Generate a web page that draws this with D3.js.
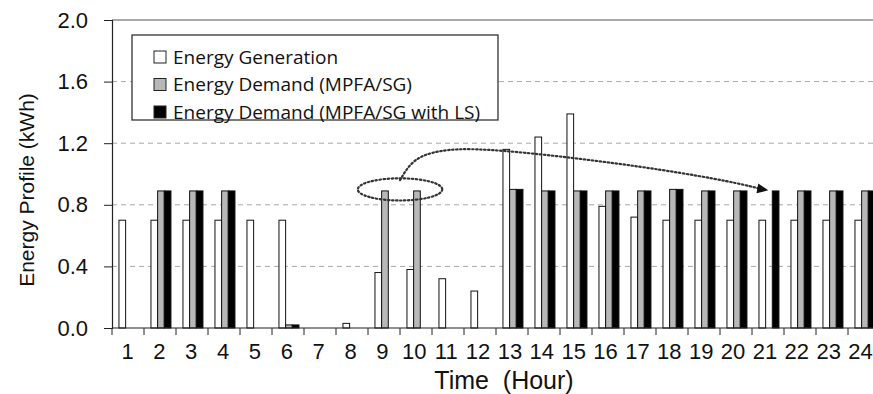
<!DOCTYPE html>
<html>
<head>
<meta charset="utf-8">
<script src="https://cdn.jsdelivr.net/npm/d3@7"></script>
<style>
  body { margin: 0; background: #fff; }
  svg { display: block; }
</style>
</head>
<body>
<div id="figure"></div>
<script>
// hours on the x axis
const hours = ["1","2","3","4","5","6","7","8","9","10","11","12","13","14","15","16","17","18","19","20","21","22","23","24"];
// kWh per hour
const generation = [0.70,0.70,0.70,0.70,0.70,0.70,0,0.03,0.36,0.38,0.32,0.24,1.16,1.24,1.39,0.79,0.72,0.70,0.70,0.70,0.70,0.70,0.70,0.70];
const demandSG   = [0,0.89,0.89,0.89,0,0.02,0,0,0.89,0.89,0,0,0.90,0.89,0.89,0.89,0.89,0.90,0.89,0.89,0,0.89,0.89,0.89];
const demandLS   = [0,0.89,0.89,0.89,0,0.02,0,0,0,0,0,0,0.90,0.89,0.89,0.89,0.89,0.90,0.89,0.89,0.89,0.89,0.89,0.89];
const seriesNames = ["Energy Generation", "Energy Demand (MPFA/SG)", "Energy Demand (MPFA/SG with LS)"];
const seriesColors = ["#ffffff", "#b8b8b8", "#000000"];
const yTicks = [0, 0.4, 0.8, 1.2, 1.6, 2.0];
// load shifting annotation: ellipse around hours 9-10 and the arrow to hour 21 (hour position, kWh)
const ellipseAt = {h: 9.5, v: 0.9, dh: 1.32, dv: 0.072};
const arrowPath = [[9.5,0.96],[9.9,1.10],[10.7,1.155],[11.9,1.17],[14.8,1.11],[17.8,1.026],[19.9,0.948],[21.1,0.894]];

// set the dimensions and margins of the graph
const W = 873, H = 394;
const margin = {top: 20, right: -7, bottom: 66, left: 112},
  width = W - margin.left - margin.right,
  height = H - margin.top - margin.bottom;

const svg = d3.select("#figure")
  .append("svg")
  .attr("width", W)
  .attr("height", H)
  .append("g")
  .attr("transform", `translate(${margin.left},${margin.top})`);

const x = d3.scaleBand().domain(hours).range([0, width]).padding(0);
const xSub = d3.scaleBand().domain(d3.range(3)).range([0, x.bandwidth()]).paddingInner(0).paddingOuter(0.9).align(0.58);
// the hour labels run a little tighter than the bars in the original
const xLab = d3.scalePoint().domain(hours).range([15, 748]);
// continuous hour scale for the annotation
const xh = d3.scaleLinear().domain([0.5, hours.length + 0.5]).range([0, width]);
const y = d3.scaleLinear().domain([0, 2]).range([height, 0]);

// grid lines
svg.append("g")
  .selectAll("line")
  .data(yTicks.filter(d => d > 0 && d < 2))
  .join("line")
  .attr("x1", 0).attr("x2", width)
  .attr("y1", d => y(d)).attr("y2", d => y(d))
  .attr("stroke", "#a8a8a8")
  .attr("stroke-width", 1)
  .attr("stroke-dasharray", "5,4");

// top border
svg.append("line")
  .attr("x1", 0).attr("x2", width)
  .attr("y1", y(2)).attr("y2", y(2))
  .attr("stroke", "#555").attr("stroke-width", 1.2);

// bars
const rows = hours.map((h, i) => ({hour: h, vals: [generation[i], demandSG[i], demandLS[i]]}));
svg.append("g")
  .selectAll("g")
  .data(rows)
  .join("g")
  .attr("transform", d => `translate(${x(d.hour)},0)`)
  .selectAll("rect")
  .data(d => d.vals.map((v, k) => ({k: k, v: v})).filter(e => e.v > 0))
  .join("rect")
  .attr("x", d => xSub(d.k))
  .attr("width", xSub.bandwidth())
  .attr("y", d => y(d.v))
  .attr("height", d => y(0) - y(d.v))
  .attr("fill", d => seriesColors[d.k])
  .attr("stroke", "#111")
  .attr("stroke-width", 1);

// axes
const yAxis = d3.axisLeft(y).tickValues(yTicks).tickFormat(d3.format(".1f")).tickSize(8).tickPadding(16);
const gy = svg.append("g").call(yAxis);
const xAxis = d3.axisBottom(xLab).tickSize(0).tickPadding(15);
const gx = svg.append("g").attr("transform", `translate(0,${height})`).call(xAxis);
gx.select(".domain").attr("d", `M0,0H${width}`);
// x ticks sit on the category boundaries
gx.selectAll(".bound")
  .data(d3.range(hours.length + 1))
  .join("line")
  .attr("class", "bound")
  .attr("x1", d => d * x.step()).attr("x2", d => d * x.step())
  .attr("y1", 0).attr("y2", 7)
  .attr("stroke", "#222");

[gx, gy].forEach(g => {
  g.select(".domain").attr("stroke", "#222").attr("stroke-width", 1.2);
  g.selectAll(".tick line").attr("stroke", "#222");
  g.selectAll("text")
    .attr("fill", "#111")
    .style("font-family", "'Liberation Sans', Arial, sans-serif")
    .style("font-size", "22px");
});

// axis titles
svg.append("text")
  .attr("x", 504 - margin.left)
  .attr("y", 389 - margin.top)
  .attr("text-anchor", "middle")
  .style("white-space", "pre")
  .style("font-family", "'Liberation Sans', Arial, sans-serif")
  .style("font-size", "25px")
  .attr("fill", "#111")
  .text("Time  (Hour)");

svg.append("text")
  .attr("transform", `translate(${34 - margin.left},${190 - margin.top}) rotate(-90)`)
  .attr("text-anchor", "middle")
  .style("font-family", "'Liberation Sans', Arial, sans-serif")
  .style("font-size", "21px")
  .attr("fill", "#111")
  .text("Energy Profile (kWh)");

// annotation
const ann = svg.append("g")
  .attr("fill", "none")
  .attr("stroke", "#333")
  .attr("stroke-width", 2.2)
  .attr("stroke-dasharray", "1.5,2.5")
  .attr("stroke-linecap", "round");

ann.append("ellipse")
  .attr("cx", xh(ellipseAt.h))
  .attr("cy", y(ellipseAt.v))
  .attr("rx", xh(ellipseAt.h + ellipseAt.dh) - xh(ellipseAt.h))
  .attr("ry", y(ellipseAt.v) - y(ellipseAt.v + ellipseAt.dv));

const line = d3.line().x(d => xh(d[0])).y(d => y(d[1])).curve(d3.curveBasis);
ann.append("path").attr("d", line(arrowPath.slice(0, -1).concat([[20.7, 0.907]])));

// arrow head
const tip = arrowPath[arrowPath.length - 1];
const prev = [20.4, 0.92];
const ang = Math.atan2(y(tip[1]) - y(prev[1]), xh(tip[0]) - xh(prev[0])) * 180 / Math.PI;
svg.append("path")
  .attr("d", "M0,0 L-11,-5 L-11,5 Z")
  .attr("fill", "#111")
  .attr("transform", `translate(${xh(tip[0]) - 3},${y(tip[1])}) rotate(${ang})`);

// legend
const lg = svg.append("g").attr("transform", `translate(${132 - margin.left},${35 - margin.top})`);
lg.append("rect")
  .attr("width", 366).attr("height", 85)
  .attr("fill", "#fff")
  .attr("stroke", "#333").attr("stroke-width", 1.3);
const item = lg.selectAll(".item")
  .data(seriesNames)
  .join("g")
  .attr("class", "item")
  .attr("transform", (d, i) => `translate(22,${16 + i * 27.5})`);
item.append("rect")
  .attr("width", 12).attr("height", 12)
  .attr("fill", (d, i) => seriesColors[i])
  .attr("stroke", "#222").attr("stroke-width", 1);
item.append("text")
  .attr("x", 19).attr("y", 6)
  .attr("dy", "0.36em")
  .style("font-family", "'Open Sans', sans-serif")
  .style("font-size", "19px")
  .attr("fill", "#111")
  .text(d => d);
</script>
</body>
</html>
